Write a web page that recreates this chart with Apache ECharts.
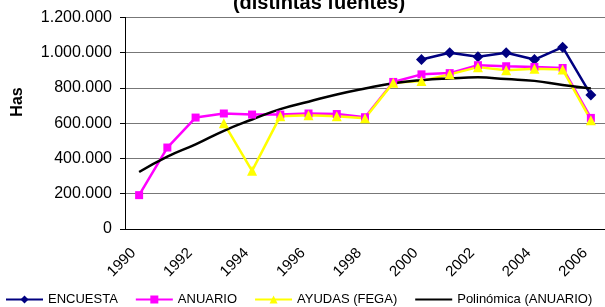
<!DOCTYPE html>
<html>
<head>
<meta charset="utf-8">
<script src="https://cdn.jsdelivr.net/npm/echarts@6/dist/echarts.min.js"></script>
<style>
  html, body { margin: 0; padding: 0; background: #fff; }
  #chart { width: 605px; height: 307px; }
</style>
</head>
<body>
<div id="chart"></div>
<script>
// datos
const years = ['1990', '1991', '1992', '1993', '1994', '1995', '1996', '1997', '1998',
  '1999', '2000', '2001', '2002', '2003', '2004', '2005', '2006']
const encuesta = [null, null, null, null, null, null, null, null, null, null,
  961000, 1000000, 977000, 1000000, 961000, 1031000, 760000]
const anuario = [192000, 462000, 632000, 655000, 649000, 649000, 655000, 652000, 634000,
  834000, 877000, 884000, 929000, 923000, 919000, 913000, 630000]
const ayudas = [null, null, null, 600000, 330000, 640000, 645000, 640000, 628000,
  830000, 840000, 877000, 918000, 900000, 909000, 904000, 617000]
const polinomica = [323000, 410000, 480000, 557000, 621000, 680000, 722000, 763000, 797000,
  826000, 844000, 854000, 860000, 850000, 840000, 816000, 797000]

const fmt = v => String(v).replace(/\B(?=(\d{3})+(?!\d))/g, '.')

const chart = echarts.init(document.getElementById('chart'))
chart.setOption({
  animation: false,
  textStyle: { fontFamily: 'Liberation Sans, Arial, sans-serif', color: '#000' },
  title: {
    text: '(distintas fuentes)',
    left: 314,
    textAlign: 'center',
    top: -12,
    textStyle: { fontSize: 20, fontWeight: 'bold', color: '#000' }
  },
  graphic: [{
    type: 'text',
    x: 18,
    y: 102,
    rotation: Math.PI / 2,
    style: {
      text: 'Has',
      font: 'bold 16px "Liberation Sans", Arial, sans-serif',
      fill: '#000',
      textAlign: 'center',
      textVerticalAlign: 'middle'
    }
  }],
  grid: { left: 125, right: -3, top: 17.4, bottom: 78 },
  legend: {
    left: 0,
    top: 288,
    itemWidth: 37,
    itemHeight: 10,
    itemGap: 17,
    textStyle: { fontSize: 13, color: '#000' },
    data: ['ENCUESTA', 'ANUARIO', 'AYUDAS (FEGA)',
      { name: 'Polinómica (ANUARIO)', itemStyle: { opacity: 0 } }]
  },
  xAxis: {
    type: 'category',
    data: years,
    boundaryGap: true,
    axisLine: { lineStyle: { color: '#000', width: 1 } },
    axisTick: { alignWithLabel: false, interval: 0, length: 5, lineStyle: { color: '#000' } },
    axisLabel: {
      interval: 1, rotate: 45, fontSize: 15, color: '#000', margin: 16,
      padding: [0, 8, 0, 0]
    }
  },
  yAxis: {
    type: 'value',
    min: 0,
    max: 1200000,
    interval: 200000,
    axisLine: { show: true, lineStyle: { color: '#000', width: 1 } },
    axisTick: { show: true, length: 5, lineStyle: { color: '#000' } },
    axisLabel: { fontSize: 16, color: '#000', margin: 13, formatter: fmt },
    splitLine: { lineStyle: { color: '#777', width: 1 } }
  },
  series: [
    {
      name: 'ENCUESTA',
      type: 'line',
      data: encuesta,
      color: '#000080',
      symbol: 'diamond',
      symbolSize: 11,
      lineStyle: { width: 2.5 },
      itemStyle: { color: '#000080' }
    },
    {
      name: 'ANUARIO',
      type: 'line',
      data: anuario,
      color: '#ff00ff',
      symbol: 'rect',
      symbolSize: 8,
      lineStyle: { width: 2.5 },
      itemStyle: { color: '#ff00ff' }
    },
    {
      name: 'AYUDAS (FEGA)',
      type: 'line',
      data: ayudas,
      color: '#ffff00',
      symbol: 'triangle',
      symbolSize: 10,
      lineStyle: { width: 2.5 },
      itemStyle: { color: '#ffff00' }
    },
    {
      name: 'Polinómica (ANUARIO)',
      type: 'line',
      data: polinomica,
      color: '#000',
      smooth: true,
      symbol: 'none',
      lineStyle: { width: 2.5, color: '#000' }
    }
  ]
})
</script>
</body>
</html>
